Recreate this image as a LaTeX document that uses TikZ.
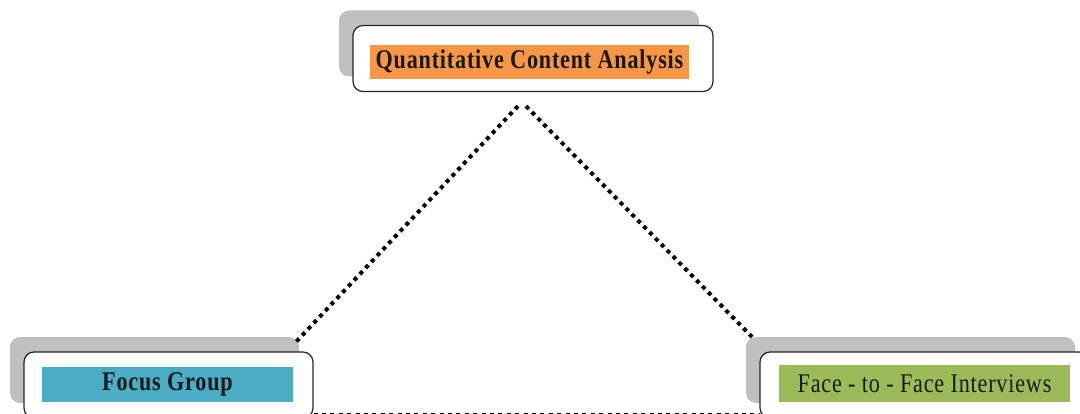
\documentclass[tikz,border=0pt]{standalone}
\usepackage{fontspec}
\usepackage{xcolor}
\usetikzlibrary{shadows, calc, positioning}
\newfontfamily\boxfont{Liberation Serif}[FakeStretch=0.82, LetterSpace=3]
\definecolor{shadowgray}{HTML}{C0C0C0}
\definecolor{qcaorange}{HTML}{F79646}
\definecolor{focusblue}{HTML}{4BACC6}
\definecolor{facegreen}{HTML}{9BBB59}
\tikzset{
  methodbox/.style={draw=black!85, line width=0.6pt, fill=white, rounded corners=5pt,
    minimum height=33pt, inner sep=0pt,
    general shadow={fill=shadowgray, shadow xshift=-7pt, shadow yshift=7.5pt}},
  methodlabel/.style={inner sep=0pt, font=\boxfont\fontsize{13.5}{16}\selectfont, text=black!90},
  dotline/.style={line width=2pt, dash pattern=on 2pt off 2.2pt}
}

\begin{document}
\begin{tikzpicture}[x=0.5pt, y=0.5pt]
            \useasboundingbox (0,0) rectangle (1080,413);
            % the three methods
            \node[methodbox, minimum width=180pt] (qca) at (533,354.5) {};
            \node[methodbox, minimum width=144.5pt] (focus) at (168.5,28) {};
            \node[methodbox, minimum width=164.5pt] (face) at (924.5,28) {};
            \node[methodlabel, fill=qcaorange, minimum width=159.5pt, minimum height=17pt] (qcalabel) at (529.5,351) {\bfseries Quantitative Content Analysis};
            \node[methodlabel, fill=focusblue, minimum width=125.5pt, minimum height=17.5pt] (focuslabel) at (167.5,28.5) {\bfseries Focus Group};
            \node[methodlabel, fill=facegreen, minimum width=145.5pt, minimum height=18.5pt] (facelabel) at (924.5,29.5) {Face - to - Face Interviews};
            % triangulation
            \draw[dotline] ($(qca.south)+(-15,-14)$) -- ($(focus.north east)+(-18,9)$);
            \draw[dotline] ($(qca.south)+(-7,-14)$) -- ($(face.north west)+(-5,12)$);
            \draw[dotline] ($(focus.south east)+(0,4)$) -- ($(face.south west)+(0,4)$);
        \end{tikzpicture}
\end{document}
